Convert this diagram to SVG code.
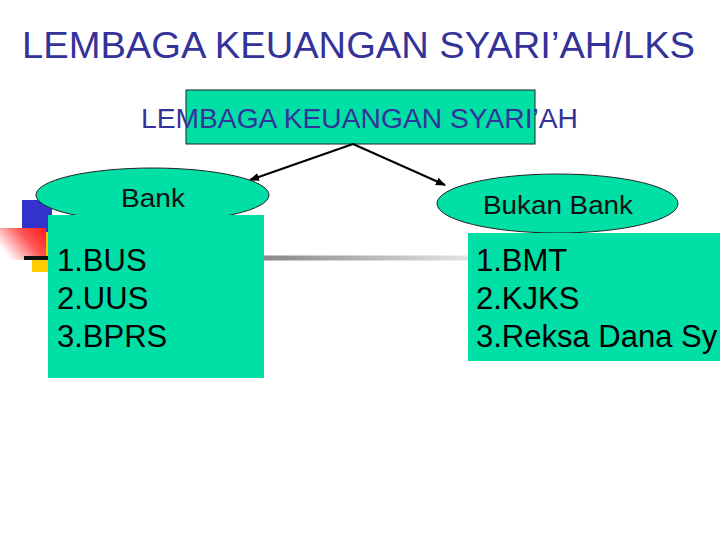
<svg xmlns="http://www.w3.org/2000/svg" width="720" height="540" viewBox="0 0 720 540">
<defs>
<style>
.t{font-family:"Liberation Sans",Arial,sans-serif;}
.hd{fill:#333399;}
.box{fill:#00DFA6;}
.lst{fill:#000;}
.lbl{fill:#111;}
</style>
<marker id="ah" markerWidth="10" markerHeight="8" refX="9" refY="4" orient="auto" markerUnits="userSpaceOnUse">
<path d="M0,0 L10,4 L0,8 Z" fill="#000"/>
</marker>
<linearGradient id="gray" x1="0" x2="1" y1="0" y2="0">
<stop offset="0" stop-color="#888"/>
<stop offset="1" stop-color="#e4e4e4"/>
</linearGradient>
<linearGradient id="red" x1="1" x2="0" y1="0" y2="0.6">
<stop offset="0" stop-color="#ff1a1a"/>
<stop offset="0.45" stop-color="#ff5555"/>
<stop offset="1" stop-color="#ffffff"/>
</linearGradient>
</defs>
<rect width="720" height="540" fill="#fff"/>
<text class="t hd" x="22" y="58" font-size="37" textLength="673" lengthAdjust="spacingAndGlyphs">LEMBAGA KEUANGAN SYARI’AH/LKS</text>

<g id="decor">
<rect x="22" y="200" width="30" height="34" fill="#3333cc"/>
<rect x="32" y="232" width="18" height="40" fill="#ffcc00"/>
<rect x="0" y="228" width="46" height="32" fill="url(#red)"/>
<rect x="24" y="256" width="26" height="4" fill="#111"/>
<rect x="264" y="255.5" width="204" height="5" fill="url(#gray)"/>
</g>

<g id="root">
<rect class="box" x="186" y="90" width="349" height="54" stroke="#222" stroke-width="1"/>
<text class="t hd" x="141" y="128" font-size="27" textLength="437" lengthAdjust="spacingAndGlyphs">LEMBAGA KEUANGAN SYARI’AH</text>
</g>

<g id="connectors" stroke="#000" stroke-width="2" fill="none">
<line x1="353" y1="144" x2="250" y2="180" marker-end="url(#ah)"/>
<line x1="353" y1="144" x2="445" y2="185" marker-end="url(#ah)"/>
</g>

<g id="bank">
<ellipse class="box" cx="152.5" cy="195" rx="116.5" ry="27" stroke="#222" stroke-width="1"/>
<text class="t lbl" x="121" y="207" font-size="26" textLength="64" lengthAdjust="spacingAndGlyphs">Bank</text>
<rect class="box" x="48" y="215" width="216" height="163"/>
<text class="t lst" x="57" y="271" font-size="31">1.BUS</text>
<text class="t lst" x="57" y="309" font-size="31">2.UUS</text>
<text class="t lst" x="57" y="347" font-size="31">3.BPRS</text>
</g>

<g id="bukan-bank">
<ellipse class="box" cx="557.5" cy="203.5" rx="120.5" ry="29.5" stroke="#222" stroke-width="1"/>
<text class="t lbl" x="483" y="214" font-size="26" textLength="150" lengthAdjust="spacingAndGlyphs">Bukan Bank</text>
<rect class="box" x="468" y="233" width="252" height="128"/>
<text class="t lst" x="476" y="271" font-size="31">1.BMT</text>
<text class="t lst" x="476" y="309" font-size="31">2.KJKS</text>
<text class="t lst" x="476" y="347" font-size="31">3.Reksa Dana Sy</text>
</g>
</svg>
